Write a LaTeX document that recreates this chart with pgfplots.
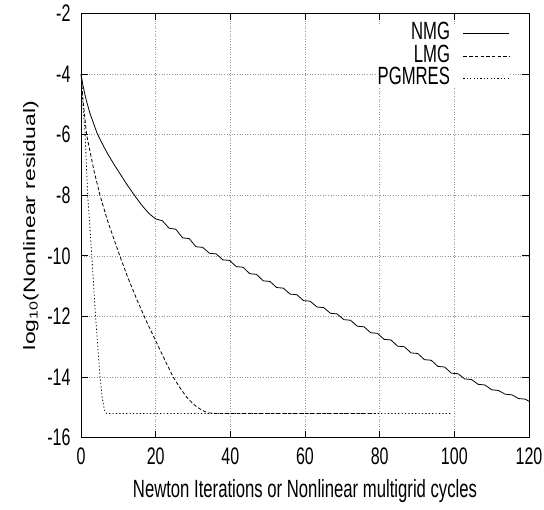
\documentclass[border=0pt]{standalone}
\usepackage{fontspec}
\setmainfont{Liberation Sans}[FakeStretch=0.67]
\newfontfamily\ylabfont{Liberation Sans}
\usepackage{graphicx}
\usepackage{pgfplots}
\pgfplotsset{compat=1.18}
\begin{document}
\begin{tikzpicture}
\useasboundingbox (-81bp,-72.3bp) rectangle (463bp,437.7bp);
\begin{axis}[
  at={(0bp,0bp)}, anchor=south west,
  scale only axis, width=448bp, height=424.2bp,
  xmin=0, xmax=120, ymin=-16, ymax=-2,
  xtick={0,20,40,60,80,100,120},
  xticklabels={0,20,40,60,80,100,120},
  ytick={-16,-14,-12,-10,-8,-6,-4,-2},
  yticklabels={-16,-14,-12,-10,-8,-6,-4,-2},
  grid=major,
  grid style={gray!85, line width=0.6bp, dash pattern=on 1bp off 1.6bp},
  axis line style={black, line width=0.9bp},
  major tick length=7bp,
  tick style={black, line width=0.9bp},
  tick align=inside,
  every tick label/.append style={font=\fontsize{24}{27}\selectfont},
  xticklabel style={yshift=-7bp},
  yticklabel style={xshift=-7bp},
  xlabel={\fontsize{25}{28}\selectfont Newton Iterations or Nonlinear multigrid cycles},
  xlabel style={yshift=-7bp},
  ylabel={\scalebox{1}[0.72]{\ylabfont\fontsize{23}{26}\selectfont log\textsubscript{10}(Nonlinear residual)}},
  ylabel style={yshift=2bp},
  legend plot pos=right,
  legend cell align=right,
  legend image code/.code={\draw[#1] (0bp,0bp) -- (46bp,0bp);},
  legend style={at={(rel axis cs:1,1)}, anchor=north east, xshift=-19bp, yshift=-10bp,
    draw=none, fill=white, inner sep=0pt, row sep=3bp, column sep=12bp,
    font=\fontsize{25}{28}\selectfont,
    nodes={inner sep=1bp, text height=15bp, text depth=2.5bp}},
]
\addplot[black, line width=0.8bp] coordinates {
(0,-4)(0.5,-4.35)(1,-4.65)(1.5,-4.9)(2.4,-5.3)(3.3,-5.6)(4.3,-5.95)(5.5,-6.25)(7,-6.6)(8.7,-6.95)(10.4,-7.28)(12.5,-7.68)(14.9,-8.1)(16.5,-8.36)(18.2,-8.6)(20,-8.78)
(21.8,-8.84)(23.6,-9.087)(25.4,-9.12)(27.2,-9.403)(29,-9.43)(30.8,-9.698)(32.6,-9.718)(34.4,-9.914)(36.2,-9.934)(38,-10.13)(39.8,-10.15)(41.6,-10.354)(43.4,-10.374)(45.2,-10.588)(47,-10.608)(48.8,-10.822)(50.6,-10.842)(52.4,-11.044)(54.2,-11.064)(56,-11.26)(57.8,-11.28)(59.6,-11.476)(61.4,-11.496)(63.2,-11.686)(65,-11.706)(66.8,-11.894)(68.6,-11.914)(70.4,-12.104)(72.2,-12.124)(74,-12.32)(75.8,-12.34)(77.6,-12.536)(79.4,-12.556)(81.2,-12.754)(83,-12.774)(84.8,-12.978)(86.6,-12.998)(88.4,-13.201)(90.2,-13.221)(92,-13.424)(93.8,-13.444)(95.6,-13.647)(97.4,-13.667)(99.2,-13.87)(101,-13.89)(102.8,-14.06)(104.6,-14.08)(106.4,-14.24)(108.2,-14.26)(110,-14.42)(111.8,-14.44)(113.6,-14.564)(115.4,-14.584)(117.2,-14.708)(119,-14.728)(120,-14.8)
};
\addlegendentry{NMG}
\addplot[black, line width=0.8bp, dash pattern=on 3.5bp off 2.2bp] coordinates {
(0,-4)(0.5,-4.8)(1,-5.4)(1.5,-6)(2.5,-6.6)(3.5,-7.2)(5.1,-8)(7,-8.8)(8.7,-9.4)(10.4,-10)(12.5,-10.7)(15,-11.45)(17.5,-12.15)(20,-12.8)(22.5,-13.45)(24.7,-14)(26.5,-14.35)(28.3,-14.66)(30,-14.88)(31,-14.98)(32.5,-15.1)(34,-15.18)(36,-15.2)(79,-15.2)
};
\addlegendentry{LMG}
\addplot[black, line width=0.8bp, dash pattern=on 1.2bp off 2.2bp] coordinates {
(0,-4)(0.5,-5)(1.1,-6)(1.8,-8)(2.9,-10)(3.9,-12)(5.1,-14)(5.7,-14.7)(6.3,-15.1)(6.9,-15.2)(99,-15.2)
};
\addlegendentry{PGMRES}
\end{axis}
\end{tikzpicture}
\end{document}
